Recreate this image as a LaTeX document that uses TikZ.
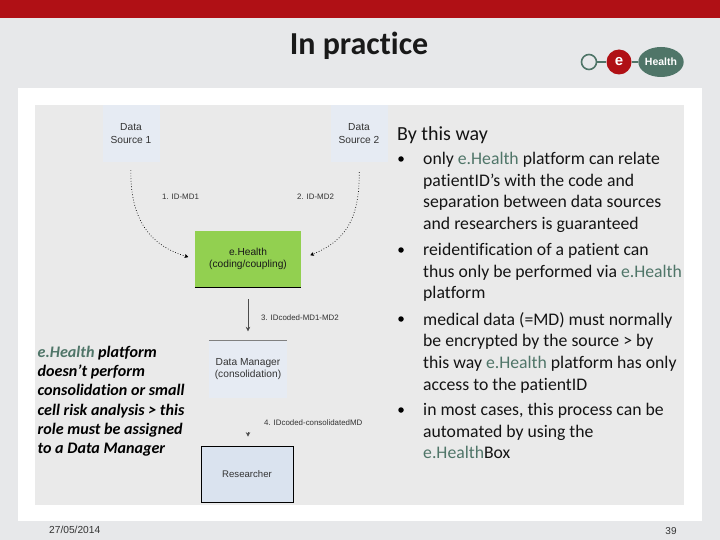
\documentclass[tikz,border=0pt]{standalone}
\usepackage{fontspec}
\setmainfont[Ligatures={NoCommon}]{Carlito}
\newfontfamily\diag{Liberation Sans}
\usetikzlibrary{arrows.meta,shapes.geometric}
\definecolor{slidebg}{HTML}{E7E8EA}
\definecolor{barred}{HTML}{B01015}
\definecolor{panel}{HTML}{EAEAEA}
\definecolor{ehgreen}{HTML}{4F7568}
\definecolor{lightbox}{HTML}{E6EBF3}
\definecolor{resbox}{HTML}{DAE3EF}
\definecolor{boxgreen}{HTML}{92D050}
\definecolor{labgrey}{HTML}{333333}
\tikzset{
  x=1pt,y=-1pt,
  srcbox/.style={fill=lightbox,minimum width=57pt,minimum height=57pt,inner sep=0pt,align=center,font=\diag\fontsize{10.2}{12.6}\selectfont,text=labgrey},
  flowlab/.style={font=\diag\fontsize{7.9}{9}\selectfont,text=labgrey,inner sep=0pt,anchor=west},
  dotflow/.style={dash pattern=on .7pt off 2pt,black,line width=.7pt,-{Stealth[length=4.5pt,width=4.5pt,round]}},
  solidflow/.style={black!70,line width=.6pt,-{Stealth[length=4.5pt,width=4.5pt]}},
  bodytext/.style={font=\fontsize{17.7}{21.7}\selectfont,align=left,anchor=north west,inner sep=0pt,text=black!92},
  sidetext/.style={font=\bfseries\itshape\fontsize{16.1}{19.2}\selectfont,align=left,anchor=north west,inner sep=0pt,text=black},
  bulletmark/.style={circle,fill=black,inner sep=0pt,minimum size=5.5pt},
}
\newcommand{\eh}{\textcolor{ehgreen}{e.Health}}
\begin{document}
\begin{tikzpicture}
\useasboundingbox (0,0) rectangle (720,540);
\fill[slidebg] (0,0) rectangle (720,540);
\fill[barred] (0,0) rectangle (720,18);
\fill[white] (18,88) rectangle (702,521);
\fill[panel] (35,105) rectangle (684,505);
\node[font=\bfseries\fontsize{32}{34}\selectfont,text=black!90,inner sep=0pt] (title) at (359,45.5) {In practice};
% logo
\node[circle,draw=ehgreen,line width=1.6pt,minimum size=15pt,inner sep=0pt] (ring) at (589,62) {};
\node[ellipse,fill=ehgreen,minimum width=44pt,minimum height=30pt,inner sep=0pt,text=white,font=\diag\bfseries\fontsize{10.5}{12}\selectfont] (lgreen) at (661,62) {Health};
\node[circle,fill=barred,minimum size=25pt,inner sep=0pt,text=white,font=\diag\bfseries\fontsize{15}{16}\selectfont] (lred) at (619,62) {e};
\draw[ehgreen,line width=1.6pt] (ring) -- (lred);
\draw[ehgreen,line width=1.6pt] (lred) -- (lgreen);
% diagram nodes
\node[srcbox] (s1) at (131,133.5) {Data\\Source 1};
\node[srcbox] (s2) at (359,133.5) {Data\\Source 2};
\node[srcbox,fill=boxgreen,minimum width=106pt,minimum height=56pt,text=black!90] (eh) at (248,259) {e.Health\\(coding/coupling)};
\draw[black,line width=.7pt] (eh.south west) -- (eh.south east);
\node[srcbox,minimum width=78pt] (dm) at (248,369) {Data Manager\\(consolidation)};
\draw[black!50,line width=.5pt] (dm.north west) -- (dm.north east);
\node[srcbox,fill=resbox,draw=black,line width=.7pt,minimum width=92pt,minimum height=56pt,font=\diag\fontsize{9.6}{11}\selectfont] (res) at (247,474) {Researcher};
% connectors
\draw[dotflow,shorten <=8pt,shorten >=7pt] (s1.south) .. controls (130,225) and (155,247) .. (eh.west);
\draw[dotflow,shorten <=10pt,shorten >=10pt] (s2.south) .. controls (360,225) and (340,243) .. (eh.east);
\draw[solidflow,shorten <=12pt,shorten >=9pt] (eh.south) -- (dm.north);
\coordinate (dmlow) at (248,432);
\draw[solidflow,shorten >=9pt] (dmlow) -- (dmlow|-res.north);
% flow labels
\node[flowlab] (l1) at (162,196.5) {1. ID-MD1};
\node[flowlab] (l2) at (297,196.5) {2. ID-MD2};
\node[flowlab] (l3) at (261,317.5) {3. IDcoded-MD1-MD2};
\node[flowlab] (l4) at (264,423) {4. IDcoded-consolidatedMD};
% side text
\node[sidetext] (side) at (37.5,346) {\eh{} platform\\doesn’t perform\\consolidation or small\\cell risk analysis > this\\role must be assigned\\to a Data Manager};
% right text
\node[bodytext,font=\fontsize{20}{22}\selectfont] (way) at (397,126) {By this way};
\node[bulletmark] (b1) at (401,159) {};
\node[bodytext] (t1) at (423,152) {only \eh{} platform can relate\\patientID’s with the code and\\separation between data sources\\and researchers is guaranteed};
\node[bulletmark] (b2) at (401,250) {};
\node[bodytext] (t2) at (423,243) {reidentification of a patient can\\thus only be performed via \eh\\platform};
\node[bulletmark] (b3) at (401,319) {};
\node[bodytext] (t3) at (423,312) {medical data (=MD) must normally\\be encrypted by the source > by\\this way \eh{} platform  has only\\access to the patientID};
\node[bulletmark] (b4) at (401,410) {};
\node[bodytext] (t4) at (423,403) {in most cases, this process can be\\automated by using the\\\eh Box};
% footer
\node[font=\diag\fontsize{10.2}{11}\selectfont,anchor=west,inner sep=0pt,text=labgrey] (date) at (49,530) {27/05/2014};
\node[font=\diag\fontsize{10}{11}\selectfont,inner sep=0pt,text=labgrey] (page) at (671,531) {39};
\end{tikzpicture}
\end{document}
